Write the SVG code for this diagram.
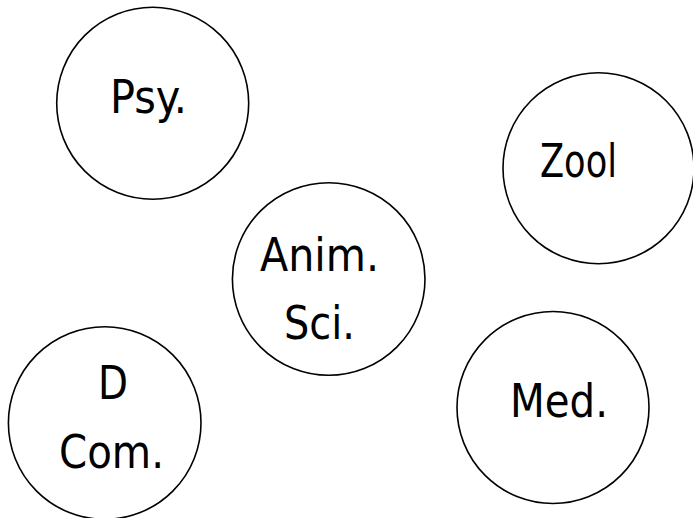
<svg xmlns="http://www.w3.org/2000/svg" width="693" height="518" viewBox="0 0 693 518">
<style>
.n circle{fill:#fff;stroke:#000;stroke-width:1.6}
.n text{font-family:"DejaVu Sans Condensed","DejaVu Sans",sans-serif;font-size:46px;fill:#000;text-anchor:middle}
</style>
<rect width="693" height="518" fill="#fff"/>
<g id="connectors"></g>
<g id="psy" class="n"><circle cx="152.7" cy="103.3" r="96"/><text x="148.5" y="113" textLength="77" lengthAdjust="spacingAndGlyphs">Psy.</text></g>
<g id="zool" class="n"><circle cx="598.5" cy="168.3" r="95.5"/><text x="578.5" y="177" textLength="77" lengthAdjust="spacingAndGlyphs">Zool</text></g>
<g id="anim" class="n"><circle cx="328.7" cy="279" r="96.3"/><text x="319.5" y="271" textLength="119" lengthAdjust="spacingAndGlyphs">Anim.</text><text x="319.5" y="339" textLength="71" lengthAdjust="spacingAndGlyphs">Sci.</text></g>
<g id="dcom" class="n"><circle cx="104.7" cy="423" r="96.3"/><text x="113" y="399" textLength="30" lengthAdjust="spacingAndGlyphs">D</text><text x="111.5" y="468" textLength="105" lengthAdjust="spacingAndGlyphs">Com.</text></g>
<g id="med" class="n"><circle cx="553" cy="407.5" r="96"/><text x="559" y="417" textLength="98" lengthAdjust="spacingAndGlyphs">Med.</text></g>
</svg>
